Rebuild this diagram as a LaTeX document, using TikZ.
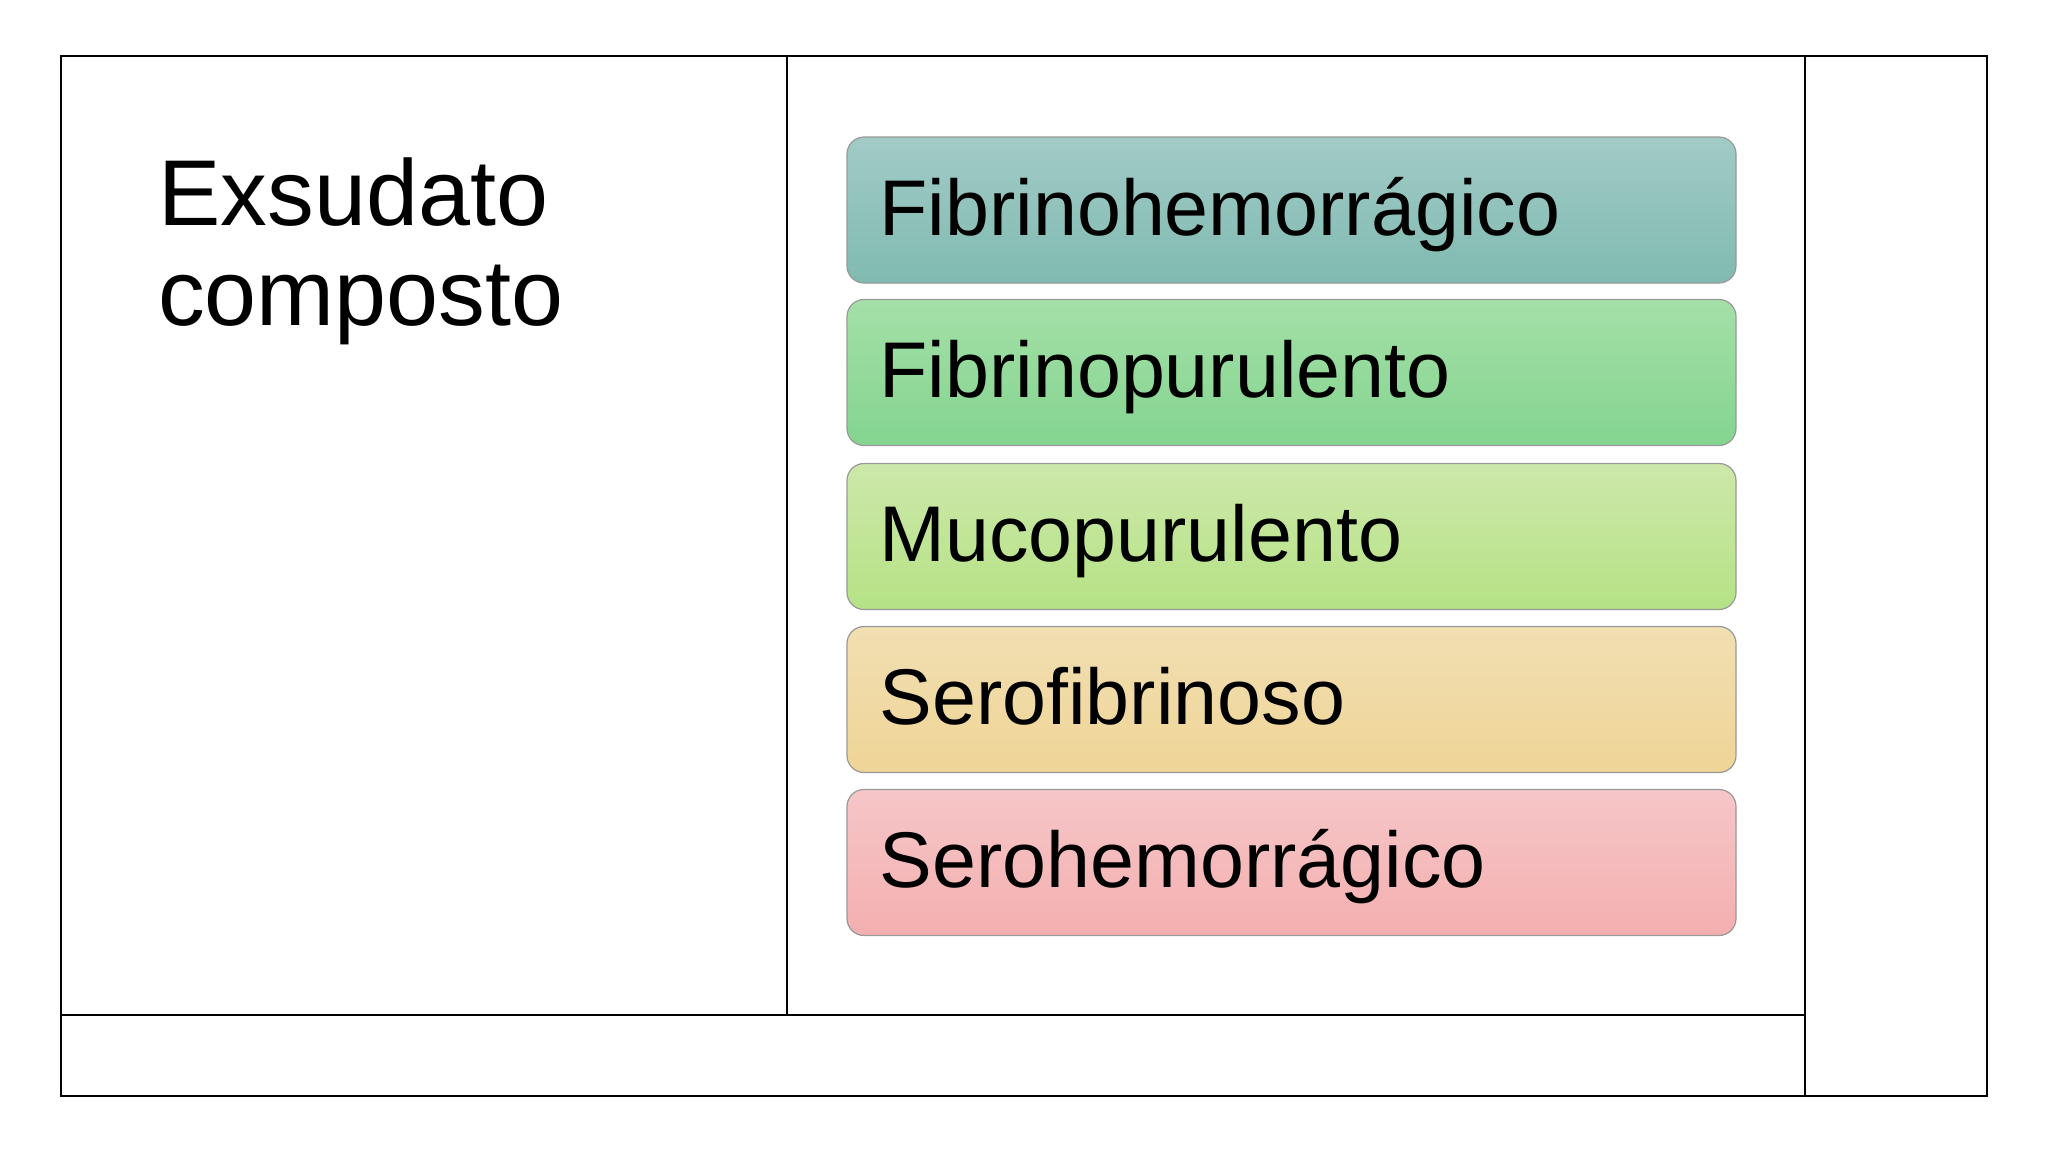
\documentclass[tikz,border=0pt]{standalone}
\usepackage{fontspec}
\setmainfont{Liberation Sans}
\begin{document}
\begin{tikzpicture}[x=1pt,y=-1pt,
  frame/.style={line width=2pt, draw=black},
  box/.style={rectangle, rounded corners=17pt, minimum width=889pt, minimum height=146pt, inner sep=0pt, draw=black!40, line width=1.2pt},
  lbl/.style={anchor=base west, inner sep=0pt, font=\fontsize{79}{95}\selectfont},
  title/.style={anchor=base west, inner sep=0pt, font=\fontsize{93.5}{100}\selectfont}
]
\useasboundingbox (0,0) rectangle (2048,1152);
\fill[white] (0,0) rectangle (2048,1152);
% table frame
\coordinate (tl) at (61,56);
\coordinate (br) at (1987,1096);
\draw[frame] (tl) rectangle (br);
\draw[frame] (787,56) -- (787,1015);
\draw[frame] (1805,56) -- (1805,1096);
\draw[frame] (61,1015) -- (1805,1015);
% title
\node[title] (ttl1) at (158,225) {Exsudato};
\node[title] (ttl2) at (158,325) {composto};
% boxes
\node[box, top color={rgb,255:red,162;green,203;blue,198}, bottom color={rgb,255:red,127;green,186;blue,176}] (b1) at (1291.5,210) {};
\node[box, top color={rgb,255:red,164;green,224;blue,168}, bottom color={rgb,255:red,132;green,212;blue,143}] (b2) at (1291.5,372.5) {};
\node[box, top color={rgb,255:red,205;green,232;blue,170}, bottom color={rgb,255:red,181;green,226;blue,133}] (b3) at (1291.5,536.5) {};
\node[box, top color={rgb,255:red,241;green,223;blue,178}, bottom color={rgb,255:red,239;green,212;blue,150}] (b4) at (1291.5,699.5) {};
\node[box, top color={rgb,255:red,246;green,198;blue,200}, bottom color={rgb,255:red,244;green,175;blue,175}] (b5) at (1291.5,862.5) {};
\foreach \b/\t in {b1/Fibrinohemorrágico, b2/Fibrinopurulento, b3/Mucopurulento, b4/Serofibrinoso, b5/Serohemorrágico}{
  \node[lbl] (t\b) at ([xshift=33pt,yshift=-25pt]\b.west) {\t};
}
\end{tikzpicture}
\end{document}
